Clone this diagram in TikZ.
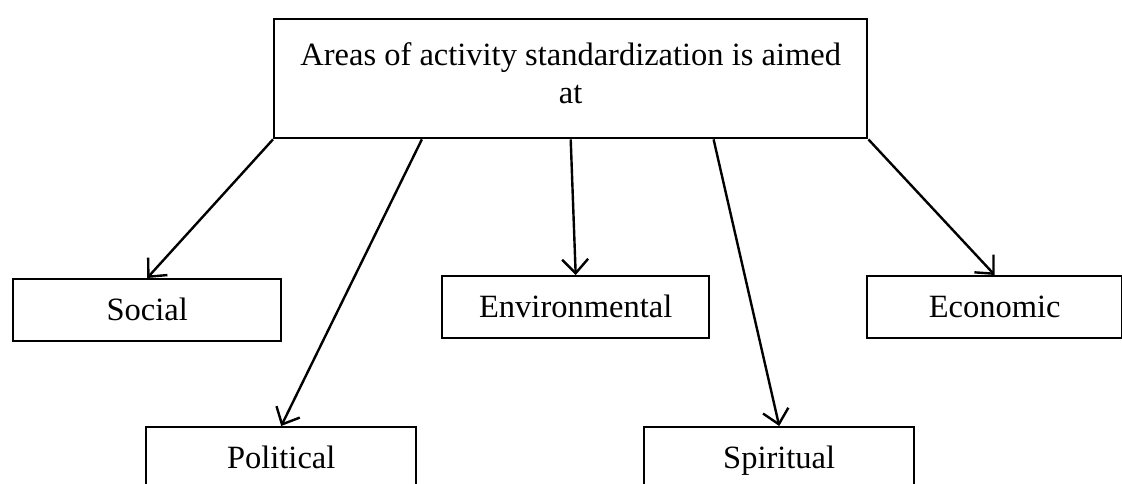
\documentclass[tikz,border=0pt]{standalone}
\usepackage{fontspec}
\setmainfont{Liberation Serif}
\usetikzlibrary{arrows.meta,calc}
\tikzset{
  areabox/.style={draw, line width=2.4pt, minimum height=62pt, inner sep=0pt,
                  font=\fontsize{32.5}{38}\selectfont},
  labelbox/.style={areabox, anchor=north west, text height=24pt, text depth=3pt},
}
\begin{document}
\begin{tikzpicture}[x=1pt, y=-1pt, line width=2.4pt, >={Straight Barb[length=14pt,width=26pt]}]
    \useasboundingbox (0,0) rectangle (1122,484);
    \clip (0,0) rectangle (1122,484);
    \node[areabox, anchor=north west, minimum width=593pt, minimum height=119pt,
          align=center] (aims) at (273,18) {Areas of activity standardization is aimed\\ at\strut};
    \node[labelbox, minimum width=268pt] (social) at (12,278) {Social};
    \node[labelbox, minimum width=267pt] (environ) at (441,275) {Environmental};
    \node[labelbox, minimum width=255pt] (econ) at (866,275) {Economic};
    \node[labelbox, minimum width=270pt] (polit) at (145,426) {Political};
    \node[labelbox, minimum width=270pt] (spirit) at (643,426) {Spiritual};
    \draw[->] (aims.south west) -- (social.north);
    \draw[->] ($(aims.south west)!0.25!(aims.south east)$) -- (polit.north);
    \draw[->] (aims.south) -- (environ.north);
    \draw[->] ($(aims.south west)!0.74!(aims.south east)$) -- (spirit.north);
    \draw[->] (aims.south east) -- (econ.north);
\end{tikzpicture}
\end{document}
